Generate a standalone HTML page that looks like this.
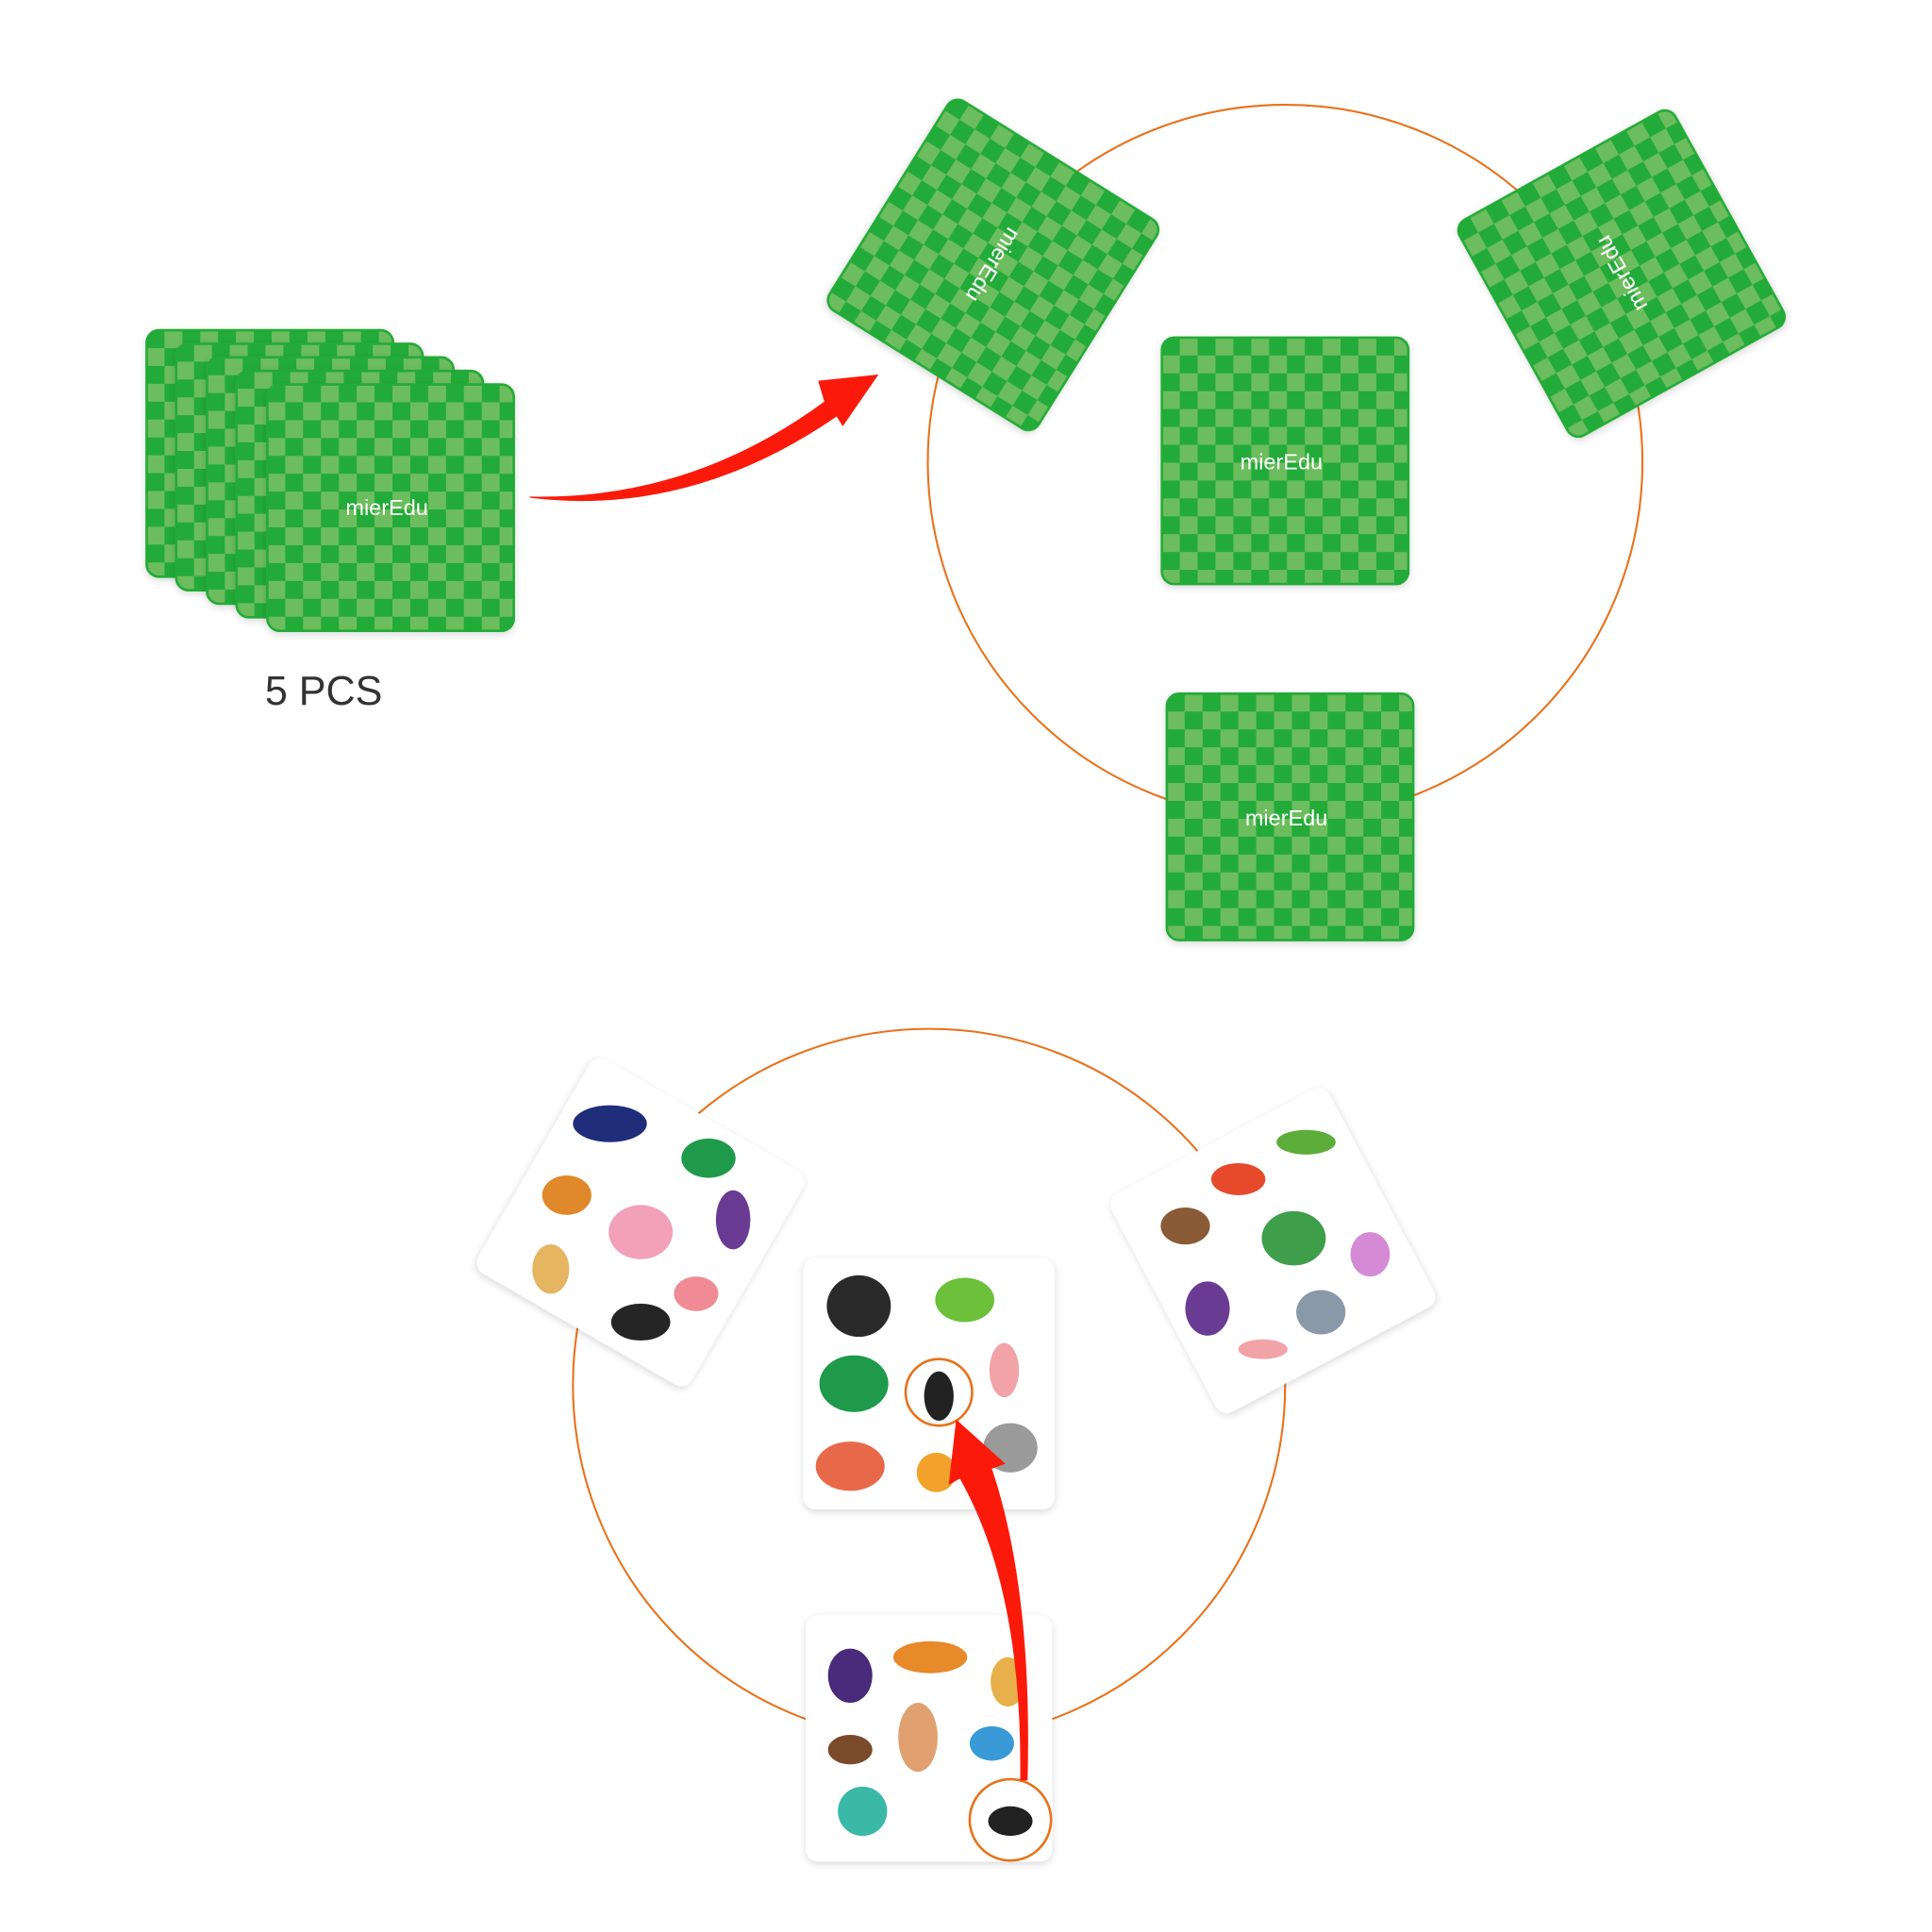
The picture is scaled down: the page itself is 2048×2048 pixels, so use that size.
<!DOCTYPE html>
<html><head><meta charset="utf-8"><style>html,body{margin:0;padding:0;background:#fff}svg{display:block}</style></head>
<body>
<svg width="2048" height="2048" viewBox="0 0 1568 1568" xmlns="http://www.w3.org/2000/svg">
<defs>
<pattern id="chk" patternUnits="userSpaceOnUse" x="-100" y="-100" width="29" height="29">
<rect width="29" height="29" fill="#6cbd5d"/>
<rect width="14.5" height="14.5" fill="#23ab37"/>
<rect x="14.5" y="14.5" width="14.5" height="14.5" fill="#23ab37"/>
</pattern>
<filter id="sh" x="-20%" y="-20%" width="140%" height="140%"><feDropShadow dx="0" dy="2" stdDeviation="3" flood-color="#000" flood-opacity="0.15"/></filter>
<g id="gcard"><rect x="-100" y="-100" width="200" height="200" rx="10" fill="url(#chk)" stroke="#23ab37" stroke-width="2"/></g>
</defs>
<circle cx="1043" cy="375" r="290" fill="none" stroke="#e8721c" stroke-width="1.6"/>
<circle cx="754" cy="1124" r="289" fill="none" stroke="#e8721c" stroke-width="1.6"/>

<g transform="translate(219,368)" filter="url(#sh)"><use href="#gcard"/></g>
<g transform="translate(243,379)" filter="url(#sh)"><use href="#gcard"/></g>
<g transform="translate(268,390)" filter="url(#sh)"><use href="#gcard"/></g>
<g transform="translate(292,401)" filter="url(#sh)"><use href="#gcard"/></g>
<g transform="translate(317,412)" filter="url(#sh)"><use href="#gcard"/><text x="-3" y="6" text-anchor="middle" font-family="Liberation Sans,sans-serif" font-size="18" fill="#fff">mierEdu</text></g>
<text x="215" y="572" font-family="Liberation Sans,sans-serif" font-size="33" fill="#333">5 PCS</text>

<g transform="translate(806,215) rotate(32)" filter="url(#sh)"><use href="#gcard"/><text x="0" y="6" text-anchor="middle" font-family="Liberation Sans,sans-serif" font-size="18" fill="#fff" transform="rotate(90)">mierEdu</text></g>
<g transform="translate(1043,374)" filter="url(#sh)"><use href="#gcard"/><text x="-3" y="7" text-anchor="middle" font-family="Liberation Sans,sans-serif" font-size="18" fill="#fff">mierEdu</text></g>
<g transform="translate(1316,222) rotate(-29)" filter="url(#sh)"><use href="#gcard"/><text x="0" y="6" text-anchor="middle" font-family="Liberation Sans,sans-serif" font-size="18" fill="#fff" transform="rotate(-90)">mierEdu</text></g>
<g transform="translate(1047,663)" filter="url(#sh)"><use href="#gcard"/><text x="-3" y="7" text-anchor="middle" font-family="Liberation Sans,sans-serif" font-size="18" fill="#fff">mierEdu</text></g>

<path d="M430,403 Q560,406 669,326 L664,309 L713,304 L684,346 L679,338 Q560,420 430,404 Z" fill="#fb1a0a"/>

<g transform="translate(520,992) rotate(30)" filter="url(#sh)"><rect x="-100" y="-100" width="200" height="200" rx="10" fill="#fff"/></g>
<g transform="translate(1033,1015) rotate(-28)" filter="url(#sh)"><rect x="-100" y="-100" width="200" height="200" rx="10" fill="#fff"/></g>
<g transform="translate(754,1123)" filter="url(#sh)"><rect x="-102" y="-102" width="204" height="204" rx="10" fill="#fff"/></g>
<g transform="translate(754,1411)" filter="url(#sh)"><rect x="-100" y="-100" width="200" height="200" rx="10" fill="#fff"/></g>

<ellipse cx="495" cy="912" rx="30" ry="15" fill="#1f2d7a"/><ellipse cx="575" cy="940" rx="22" ry="16" fill="#1e9a4a"/>
<ellipse cx="460" cy="970" rx="20" ry="16" fill="#e0892a"/><ellipse cx="520" cy="1000" rx="26" ry="22" fill="#f2a1b8"/>
<ellipse cx="595" cy="990" rx="14" ry="24" fill="#6a3b93"/><ellipse cx="447" cy="1030" rx="15" ry="20" fill="#e6b562"/>
<ellipse cx="520" cy="1073" rx="24" ry="15" fill="#252525"/><ellipse cx="565" cy="1050" rx="18" ry="14" fill="#f08a94"/>
<ellipse cx="1060" cy="927" rx="24" ry="10" fill="#5cad3a"/><ellipse cx="1005" cy="957" rx="22" ry="13" fill="#e64a2a"/>
<ellipse cx="962" cy="995" rx="20" ry="15" fill="#8b5a36"/><ellipse cx="1050" cy="1005" rx="26" ry="22" fill="#3e9e4a"/>
<ellipse cx="1112" cy="1018" rx="16" ry="18" fill="#d58ad6"/><ellipse cx="980" cy="1062" rx="18" ry="22" fill="#6a3b93"/>
<ellipse cx="1072" cy="1065" rx="20" ry="18" fill="#8a99a8"/><ellipse cx="1025" cy="1095" rx="20" ry="8" fill="#f2a3a8"/>
<ellipse cx="697" cy="1060" rx="26" ry="25" fill="#2a2a2a"/><ellipse cx="783" cy="1055" rx="24" ry="18" fill="#6cc03a"/>
<ellipse cx="693" cy="1123" rx="28" ry="23" fill="#1e9a4a"/><ellipse cx="815" cy="1112" rx="12" ry="22" fill="#f2a3a8"/>
<ellipse cx="690" cy="1190" rx="28" ry="20" fill="#e8694a"/><ellipse cx="760" cy="1195" rx="16" ry="16" fill="#f2a22a"/>
<ellipse cx="820" cy="1175" rx="22" ry="20" fill="#9a9a9a"/>
<ellipse cx="762" cy="1133" rx="12" ry="20" fill="#222"/>
<circle cx="762" cy="1130" r="27" fill="none" stroke="#e8721c" stroke-width="2"/>
<ellipse cx="690" cy="1360" rx="18" ry="22" fill="#4a2a7a"/><ellipse cx="755" cy="1345" rx="30" ry="13" fill="#e8892a"/>
<ellipse cx="818" cy="1365" rx="14" ry="20" fill="#e8b04a"/><ellipse cx="690" cy="1420" rx="18" ry="12" fill="#7a4a2a"/>
<ellipse cx="745" cy="1410" rx="16" ry="28" fill="#e0a070"/><ellipse cx="805" cy="1415" rx="18" ry="14" fill="#3a9ad8"/>
<ellipse cx="700" cy="1470" rx="20" ry="20" fill="#3ab8a8"/>
<ellipse cx="820" cy="1478" rx="18" ry="12" fill="#222"/>
<circle cx="820" cy="1477" r="33" fill="none" stroke="#e8721c" stroke-width="2"/>

<path d="M828,1445 Q830,1290 779,1200 L770,1205 L776,1152 L816,1188 L805,1192 Q838,1290 834,1445 Z" fill="#fb1a0a"/>
</svg>
</body></html>
